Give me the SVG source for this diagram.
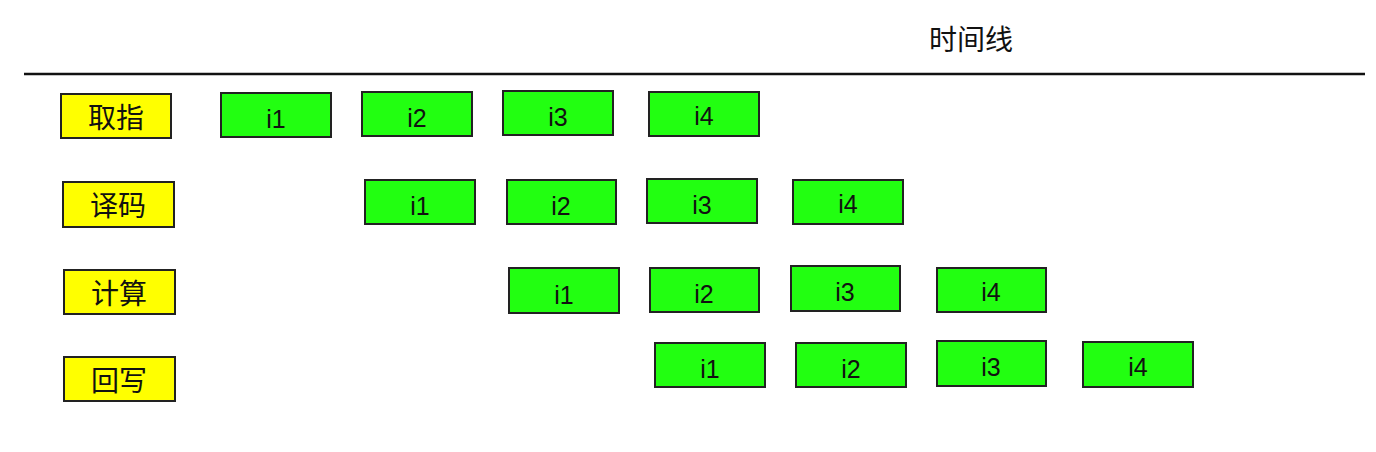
<svg xmlns="http://www.w3.org/2000/svg" width="1376" height="452" viewBox="0 0 1376 452">
<style>
.stage rect{fill:#ffff00;stroke:#222;stroke-width:2}
.ins rect{fill:#22ff11;stroke:#222;stroke-width:2}
text{font-family:"Noto Sans CJK SC","Liberation Sans",sans-serif;font-size:28px;fill:#111;text-anchor:middle}
.lbl{font-family:"Liberation Sans","Noto Sans CJK SC",sans-serif;font-size:25px}
</style>
<rect width="1376" height="452" fill="#ffffff"/>
<g id="timeline">
<text x="971" y="50">时间线</text>
<line x1="24" y1="74" x2="1365" y2="74" stroke="#111" stroke-width="2.5"/>
</g>
<g id="connectors"></g>
<g id="stage-fetch" class="stage"><rect x="61" y="94" width="110" height="44"/><text x="116" y="128">取指</text></g>
<g id="stage-decode" class="stage"><rect x="63" y="182" width="111" height="45"/><text x="118" y="216">译码</text></g>
<g id="stage-exec" class="stage"><rect x="64" y="270" width="111" height="44"/><text x="119" y="304">计算</text></g>
<g id="stage-wb" class="stage"><rect x="64" y="357" width="111" height="44"/><text x="119" y="391">回写</text></g>

<g id="f-i1" class="ins"><rect x="221" y="93" width="110" height="44"/><text class="lbl" x="276" y="128">i1</text></g>
<g id="f-i2" class="ins"><rect x="362" y="92" width="110" height="44"/><text class="lbl" x="417" y="127">i2</text></g>
<g id="f-i3" class="ins"><rect x="503" y="91" width="110" height="44"/><text class="lbl" x="558" y="126">i3</text></g>
<g id="f-i4" class="ins"><rect x="649" y="92" width="110" height="44"/><text class="lbl" x="704" y="125">i4</text></g>

<g id="d-i1" class="ins"><rect x="365" y="180" width="110" height="44"/><text class="lbl" x="420" y="215">i1</text></g>
<g id="d-i2" class="ins"><rect x="507" y="180" width="109" height="44"/><text class="lbl" x="561" y="215">i2</text></g>
<g id="d-i3" class="ins"><rect x="647" y="179" width="110" height="44"/><text class="lbl" x="702" y="214">i3</text></g>
<g id="d-i4" class="ins"><rect x="793" y="180" width="110" height="44"/><text class="lbl" x="848" y="213">i4</text></g>

<g id="e-i1" class="ins"><rect x="509" y="268" width="110" height="45"/><text class="lbl" x="564" y="304">i1</text></g>
<g id="e-i2" class="ins"><rect x="650" y="268" width="109" height="44"/><text class="lbl" x="704" y="303">i2</text></g>
<g id="e-i3" class="ins"><rect x="791" y="266" width="109" height="45"/><text class="lbl" x="845" y="301">i3</text></g>
<g id="e-i4" class="ins"><rect x="937" y="268" width="109" height="44"/><text class="lbl" x="991" y="301">i4</text></g>

<g id="w-i1" class="ins"><rect x="655" y="343" width="110" height="44"/><text class="lbl" x="710" y="378">i1</text></g>
<g id="w-i2" class="ins"><rect x="796" y="343" width="110" height="44"/><text class="lbl" x="851" y="378">i2</text></g>
<g id="w-i3" class="ins"><rect x="937" y="341" width="109" height="45"/><text class="lbl" x="991" y="376">i3</text></g>
<g id="w-i4" class="ins"><rect x="1083" y="342" width="110" height="45"/><text class="lbl" x="1138" y="376">i4</text></g>
</svg>
